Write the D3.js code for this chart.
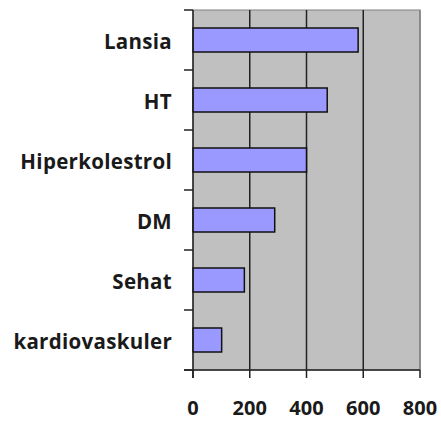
<!DOCTYPE html>
<html><head><meta charset="utf-8">
<script src="https://cdn.jsdelivr.net/npm/d3@7"></script>
<style>body{margin:0;background:#fff}</style>
</head><body>
<svg id="c" width="441" height="421"></svg>
<script>
const categories = ["Lansia","HT","Hiperkolestrol","DM","Sehat","kardiovaskuler"];
const values = [582, 473, 400, 288, 181, 101];
const xTicks = [0, 200, 400, 600, 800];

const svg = d3.select("#c");
const L = 193, R = 420, T = 10, B = 370;
const x = d3.scaleLinear().domain([0, 800]).range([L, R]);
const y = d3.scaleBand().domain(categories).range([T, B]).paddingInner(0.6).paddingOuter(0.3);
const yb = d3.scaleBand().domain(categories).range([T, B]);
const font = "'Open Sans', sans-serif";

svg.append("rect").attr("x", L).attr("y", T).attr("width", R - L).attr("height", B - T)
  .attr("fill", "#c0c0c0").attr("stroke", "#808080").attr("stroke-width", 1);

// gridlines
svg.selectAll(".grid").data(xTicks.slice(1)).enter().append("line")
  .attr("x1", d => x(d)).attr("x2", d => x(d)).attr("y1", T).attr("y2", B)
  .attr("stroke", d => d === 800 ? "#808080" : "#222").attr("stroke-width", 1.5);

// bars
svg.selectAll(".bar").data(categories).enter().append("rect")
  .attr("x", x(0)).attr("y", d => y(d))
  .attr("width", (d, i) => x(values[i]) - x(0)).attr("height", y.bandwidth())
  .attr("fill", "#9999ff").attr("stroke", "#111").attr("stroke-width", 1.5);

// left axis
svg.append("line").attr("x1", L).attr("x2", L).attr("y1", T).attr("y2", B + 8)
  .attr("stroke", "#222").attr("stroke-width", 1.5);
const bounds = categories.map(c => yb(c)).concat([B]);
svg.selectAll(".yt").data(bounds).enter().append("line")
  .attr("x1", L - 9).attr("x2", L).attr("y1", d => d).attr("y2", d => d)
  .attr("stroke", "#222").attr("stroke-width", 1.5);
svg.selectAll(".yl").data(categories).enter().append("text")
  .attr("x", 172).attr("y", d => yb(d) + yb.bandwidth() / 2 + 9)
  .attr("text-anchor", "end").attr("font-family", font).attr("font-weight", "bold")
  .attr("font-size", 20.5).attr("letter-spacing", 0.3).attr("fill", "#1a1a1a").text(d => d);

// bottom axis
svg.append("line").attr("x1", L - 9).attr("x2", R).attr("y1", B).attr("y2", B)
  .attr("stroke", "#222").attr("stroke-width", 1.5);
svg.selectAll(".xt").data(xTicks).enter().append("line")
  .attr("x1", d => x(d)).attr("x2", d => x(d)).attr("y1", B).attr("y2", B + 8)
  .attr("stroke", "#222").attr("stroke-width", 1.5);
svg.selectAll(".xl").data(xTicks).enter().append("text")
  .attr("x", d => x(d)).attr("y", 415).attr("text-anchor", "middle")
  .attr("font-family", font).attr("font-weight", "bold").attr("font-size", 20)
  .attr("fill", "#1a1a1a").text(d => d);
</script>
</body></html>
